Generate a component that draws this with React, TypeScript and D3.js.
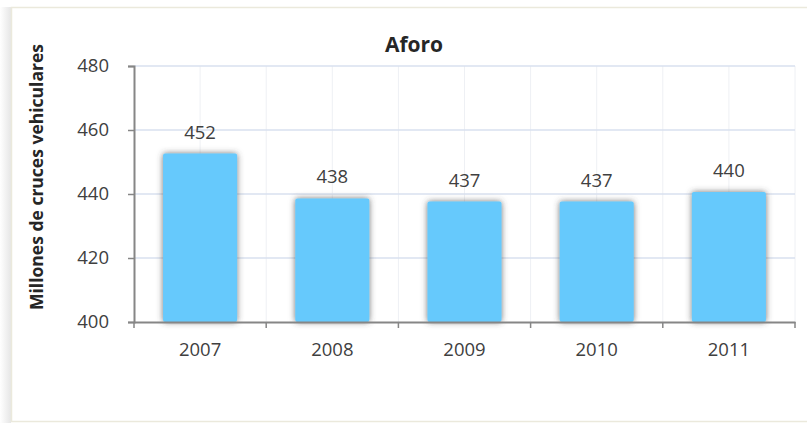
import React, { useEffect, useRef } from 'react';
import * as d3 from 'd3';

const years = ['2007', '2008', '2009', '2010', '2011'];
const aforo = [452, 438, 437, 437, 440];
const yTicks = [400, 420, 440, 460, 480];

const W = 807;
const H = 423;
const font = "'Open Sans', 'DejaVu Sans', sans-serif";

const App = () => {
  const svgRef = useRef<SVGSVGElement>(null);

  useEffect(() => {
    const svg = d3.select(svgRef.current);
    svg.selectAll('*').remove();

    const left = 134, right = 795, top = 66, bottom = 322;

    const x = d3.scaleBand().domain(years).range([left, right]).padding(0);
    const y = d3.scaleLinear().domain([400, 480]).range([bottom, top]);

    const defs = svg.append('defs');
    const sh = defs.append('filter').attr('id', 'barShadow')
      .attr('x', '-30%').attr('y', '-30%').attr('width', '160%').attr('height', '160%');
    sh.append('feDropShadow').attr('dx', 0).attr('dy', 0).attr('stdDeviation', 3)
      .attr('flood-color', '#444').attr('flood-opacity', 0.75);

    const lg = defs.append('linearGradient').attr('id', 'leftShade');
    lg.append('stop').attr('offset', '0%').attr('stop-color', '#fff');
    lg.append('stop').attr('offset', '100%').attr('stop-color', '#e6e6e6');

    // outer frame with soft shade on the left
    svg.append('rect').attr('x', 0).attr('y', 7).attr('width', 11).attr('height', H - 7)
      .attr('fill', 'url(#leftShade)');
    svg.append('rect').attr('x', 11.5).attr('y', 7.5).attr('width', W).attr('height', 414)
      .attr('fill', '#fff').attr('stroke', '#ebe9dc').attr('stroke-width', 1.5);

    // vertical grid (band centres and edges)
    const vLines: number[] = [];
    years.forEach(d => {
      vLines.push(x(d)! + x.bandwidth() / 2);
      vLines.push(x(d)! + x.bandwidth());
    });
    svg.append('g').selectAll('line').data(vLines).enter().append('line')
      .attr('x1', d => d).attr('x2', d => d).attr('y1', top).attr('y2', bottom)
      .attr('stroke', '#eef0f4').attr('stroke-width', 1);

    // horizontal grid
    svg.append('g').selectAll('line').data(yTicks.slice(1)).enter().append('line')
      .attr('x1', left).attr('x2', right).attr('y1', d => y(d)).attr('y2', d => y(d))
      .attr('stroke', '#d9e1ef').attr('stroke-width', 1.5);

    // bars
    const bw = x.bandwidth() * 0.56;
    svg.append('g').selectAll('rect').data(aforo).enter().append('rect')
      .attr('x', (d, i) => x(years[i])! + (x.bandwidth() - bw) / 2)
      .attr('y', d => y(d) - 2)
      .attr('width', bw)
      .attr('height', d => bottom - y(d) + 2)
      .attr('rx', 2)
      .attr('fill', '#66c9fc')
      .attr('filter', 'url(#barShadow)');

    // value labels
    svg.append('g').selectAll('text').data(aforo).enter().append('text')
      .attr('x', (d, i) => x(years[i])! + x.bandwidth() / 2)
      .attr('y', d => y(d) - 17)
      .attr('text-anchor', 'middle')
      .attr('font-family', font).attr('font-size', 18.5).attr('fill', '#404040')
      .text(d => d);

    // y axis
    const yAxis = svg.append('g').attr('transform', `translate(${left},0)`)
      .call(d3.axisLeft(y).tickValues(yTicks).tickSize(6).tickPadding(19).tickFormat(d3.format('d')));
    yAxis.select('.domain').attr('stroke', '#868686').attr('stroke-width', 2);
    yAxis.selectAll('.tick line').attr('stroke', '#868686').attr('stroke-width', 1.5);
    yAxis.selectAll('.tick text').attr('font-family', font).attr('font-size', 18.5).attr('fill', '#404040');

    // x axis
    const xAxis = svg.append('g').attr('transform', `translate(0,${bottom})`)
      .call(d3.axisBottom(x).tickSize(0).tickPadding(21));
    xAxis.select('.domain').attr('stroke', '#868686').attr('stroke-width', 2);
    xAxis.selectAll('.tick text').attr('font-family', font).attr('font-size', 18.5).attr('fill', '#404040');
    const edges = [left, ...years.map(d => x(d)! + x.bandwidth())];
    xAxis.append('g').selectAll('line').data(edges).enter().append('line')
      .attr('x1', d => d).attr('x2', d => d).attr('y1', 0).attr('y2', 6)
      .attr('stroke', '#868686').attr('stroke-width', 1.5);

    // title
    svg.append('text').attr('x', 414).attr('y', 52).attr('text-anchor', 'middle')
      .attr('font-family', font).attr('font-weight', 'bold').attr('font-size', 21)
      .attr('fill', '#262626').text('Aforo');

    // y axis title
    svg.append('text').attr('transform', 'translate(43,177) rotate(-90)')
      .attr('text-anchor', 'middle')
      .attr('font-family', font).attr('font-weight', 'bold').attr('font-size', 17.5)
      .attr('fill', '#262626').text('Millones de cruces vehiculares');
  }, []);

  return (
    <svg ref={svgRef} width={W} height={H}
      style={{ position: 'absolute', left: 0, top: 0, display: 'block' }} />
  );
};

export default App;
